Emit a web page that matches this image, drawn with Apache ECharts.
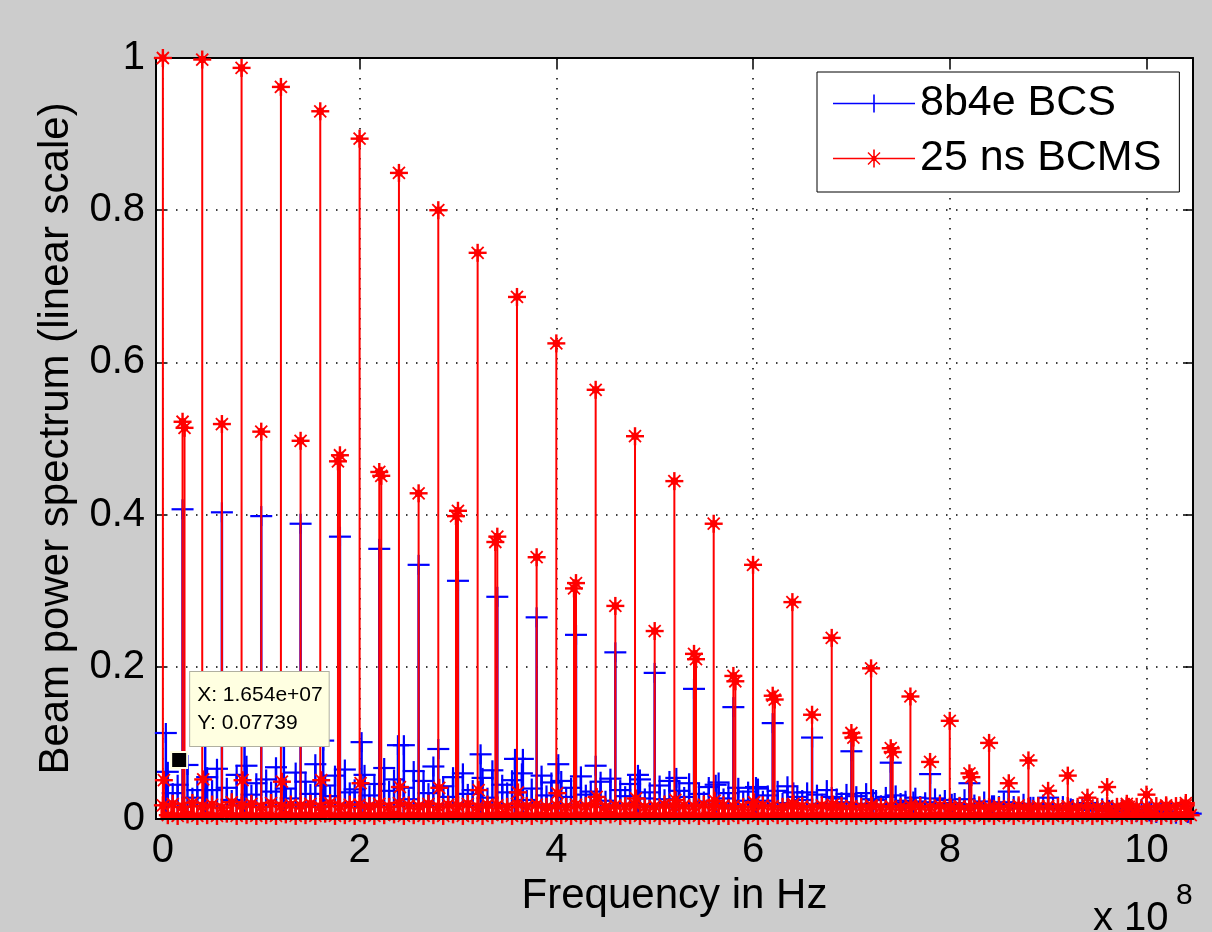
<!DOCTYPE html>
<html>
<head>
<meta charset="utf-8">
<title>Beam power spectrum</title>
<script src="https://cdn.jsdelivr.net/npm/echarts@6/dist/echarts.min.js"></script>
<style>
html, body { margin: 0; padding: 0; background: #cccccc; }
#chart { width: 1212px; height: 932px; }
</style>
</head>
<body>
<div id="chart"></div>
<script>
// frequencies in MHz, amplitudes normalised to the DC line

// 40 MHz harmonics
var mainFreq = [0, 40, 80, 120, 160, 200, 240, 280, 320, 360, 400, 440, 480, 520,
  560, 600, 640, 680, 720, 760, 800, 840, 880, 920, 960, 1000, 1040];
var redMain = [1.0, 0.998, 0.987, 0.962, 0.930, 0.894, 0.849, 0.800, 0.744, 0.686, 0.625, 0.564, 0.503, 0.444,
  0.388, 0.334, 0.285, 0.238, 0.198, 0.161, 0.129, 0.100, 0.077, 0.057, 0.042, 0.032, 0.021];

// odd 20 MHz harmonics
var oddFreq = [20, 60, 100, 140, 180, 220, 260, 300, 340, 380, 420, 460, 500,
  540, 580, 620, 660, 700, 740, 780, 820, 860, 900, 940, 980, 1020];
var redOdd = [0.522, 0.519, 0.509, 0.497, 0.478, 0.456, 0.428, 0.405, 0.371, 0.344, 0.310, 0.280, 0.247,
  0.217, 0.188, 0.162, 0.137, 0.113, 0.093, 0.075, 0.060, 0.047, 0.037, 0.028, 0.020, 0.018];
var blueOdd = [0.407, 0.403, 0.398, 0.388, 0.371, 0.355, 0.334, 0.313, 0.292, 0.265, 0.242, 0.219, 0.192,
  0.171, 0.147, 0.126, 0.107, 0.089, 0.074, 0.059, 0.047, 0.036, 0.028, 0.021, 0.014, 0.010];

// doubled red lines beside some odd harmonics
var redTwinFreq = [22, 178, 222, 298, 338, 418, 542, 582, 622, 702, 742, 822, 982];
var redTwin = [0.514, 0.470, 0.451, 0.398, 0.364, 0.303, 0.210, 0.181, 0.157, 0.107, 0.088, 0.055, 0.016];

// small lines sitting next to the 40 MHz harmonics
var redSideFreq = [1, 41, 81, 121, 161, 201, 241, 281, 321, 361, 401, 441, 481, 521,
  561, 601, 641, 681, 721, 761, 801, 841, 881, 921, 961, 1001, 1041];
var redSide = [0.051, 0.052, 0.051, 0.049, 0.051, 0.047, 0.042, 0.041, 0.038, 0.035, 0.034, 0.029, 0.027, 0.025,
  0.024, 0.022, 0.020, 0.019, 0.017, 0.016, 0.015, 0.014, 0.013, 0.012, 0.011, 0.010, 0.009];
var blueSideFreq = [3, 43, 83, 123, 163, 202, 239, 245, 280, 323, 358, 366, 402, 440, 483, 522,
  562, 603, 641, 680, 722, 763, 802, 843, 882, 923, 962, 1003, 1042];
var blueSide = [0.113, 0.110, 0.108, 0.106, 0.103, 0.101, 0.097, 0.097, 0.092, 0.085, 0.079, 0.079, 0.072, 0.070, 0.058, 0.054,
  0.045, 0.042, 0.035, 0.029, 0.026, 0.023, 0.020, 0.018, 0.016, 0.014, 0.012, 0.010, 0.008];

// dense low level lines
var blueFloorFreq = [5, 15, 25, 35, 45, 55, 65, 75, 85, 95,
  105, 115, 125, 135, 145, 155, 165, 175, 185, 195,
  205, 215, 225, 235, 245, 255, 265, 275, 285, 295,
  305, 315, 325, 335, 345, 355, 365, 375, 385, 395,
  405, 415, 425, 435, 445, 455, 465, 475, 485, 495,
  505, 515, 525, 535, 545, 555, 565, 575, 585, 595,
  605, 615, 625, 635, 645, 655, 665, 675, 685, 695,
  705, 715, 725, 735, 745, 755, 765, 775, 785, 795,
  805, 815, 825, 835, 845, 855, 865, 875, 885, 895,
  905, 915, 925, 935, 945, 955, 965, 975, 985, 995,
  1005, 1015, 1025, 1035, 1045];
var blueFloor = [0.062, 0.045, 0.071, 0.038, 0.055, 0.066, 0.041, 0.058, 0.070, 0.047,
  0.052, 0.068, 0.040, 0.061, 0.049, 0.072, 0.044, 0.057, 0.065, 0.039,
  0.058, 0.046, 0.067, 0.052, 0.041, 0.063, 0.050, 0.069, 0.043, 0.055,
  0.060, 0.038, 0.054, 0.064, 0.045, 0.051, 0.060, 0.040, 0.057, 0.048,
  0.050, 0.041, 0.056, 0.036, 0.049, 0.053, 0.038, 0.046, 0.052, 0.035,
  0.044, 0.050, 0.037, 0.047, 0.033, 0.042, 0.048, 0.034, 0.041, 0.036,
  0.040, 0.031, 0.037, 0.043, 0.029, 0.035, 0.032, 0.038, 0.027, 0.033,
  0.030, 0.034, 0.025, 0.029, 0.031, 0.024, 0.028, 0.022, 0.027, 0.025,
  0.021, 0.026, 0.019, 0.023, 0.018, 0.022, 0.017, 0.020, 0.016, 0.019,
  0.015, 0.017, 0.013, 0.016, 0.012, 0.014, 0.011, 0.013, 0.010, 0.012,
  0.009, 0.010, 0.008, 0.009, 0.007];
var blueLowFreq = [10, 30, 50, 70, 90, 110, 130, 150, 170, 190, 210, 230, 250, 270, 290,
  310, 330, 350, 370, 390, 410, 430, 450, 470, 490, 510, 530, 550, 570, 590,
  610, 630, 650, 670, 690, 710, 730, 750, 770, 790, 810, 830, 850, 870, 890,
  910, 930, 950, 970, 990, 1010, 1030];
var blueLow = [0.034, 0.028, 0.038, 0.025, 0.032, 0.036, 0.027, 0.033, 0.030, 0.035, 0.031, 0.037, 0.026, 0.034, 0.029,
  0.033, 0.028, 0.035, 0.025, 0.031, 0.029, 0.032, 0.024, 0.030, 0.027, 0.026, 0.029, 0.023, 0.027, 0.024,
  0.024, 0.021, 0.025, 0.020, 0.022, 0.020, 0.018, 0.021, 0.017, 0.019, 0.016, 0.015, 0.017, 0.014, 0.015,
  0.013, 0.012, 0.011, 0.010, 0.009, 0.008, 0.007];

var redFloorFreq = [0, 5, 10, 15, 20, 25, 30, 35, 40, 45, 50, 55, 60, 65, 70, 75, 80, 85, 90, 95,
  100, 105, 110, 115, 120, 125, 130, 135, 140, 145, 150, 155, 160, 165, 170, 175, 180, 185, 190, 195,
  200, 205, 210, 215, 220, 225, 230, 235, 240, 245, 250, 255, 260, 265, 270, 275, 280, 285, 290, 295,
  300, 305, 310, 315, 320, 325, 330, 335, 340, 345, 350, 355, 360, 365, 370, 375, 380, 385, 390, 395,
  400, 405, 410, 415, 420, 425, 430, 435, 440, 445, 450, 455, 460, 465, 470, 475, 480, 485, 490, 495,
  500, 505, 510, 515, 520, 525, 530, 535, 540, 545, 550, 555, 560, 565, 570, 575, 580, 585, 590, 595,
  600, 605, 610, 615, 620, 625, 630, 635, 640, 645, 650, 655, 660, 665, 670, 675, 680, 685, 690, 695,
  700, 705, 710, 715, 720, 725, 730, 735, 740, 745, 750, 755, 760, 765, 770, 775, 780, 785, 790, 795,
  800, 805, 810, 815, 820, 825, 830, 835, 840, 845, 850, 855, 860, 865, 870, 875, 880, 885, 890, 895,
  900, 905, 910, 915, 920, 925, 930, 935, 940, 945, 950, 955, 960, 965, 970, 975, 980, 985, 990, 995,
  1000, 1005, 1010, 1015, 1020, 1025, 1030, 1035, 1040, 1045];
var redFloor = [0.018, 0.005, 0.020, 0.004, 0.016, 0.006, 0.021, 0.004, 0.017, 0.005, 0.019, 0.004, 0.015, 0.007, 0.022, 0.004, 0.018, 0.005, 0.020, 0.004,
  0.016, 0.005, 0.021, 0.004, 0.017, 0.006, 0.019, 0.004, 0.018, 0.005, 0.020, 0.004, 0.016, 0.007, 0.021, 0.004, 0.017, 0.005, 0.019, 0.004,
  0.019, 0.005, 0.017, 0.004, 0.020, 0.005, 0.016, 0.006, 0.021, 0.004, 0.018, 0.005, 0.017, 0.004, 0.020, 0.005, 0.016, 0.004, 0.019, 0.006,
  0.017, 0.004, 0.020, 0.005, 0.016, 0.004, 0.019, 0.005, 0.018, 0.006, 0.016, 0.004, 0.020, 0.005, 0.017, 0.004, 0.019, 0.005, 0.016, 0.004,
  0.018, 0.005, 0.016, 0.004, 0.019, 0.005, 0.017, 0.004, 0.020, 0.005, 0.016, 0.006, 0.018, 0.004, 0.017, 0.005, 0.019, 0.004, 0.016, 0.005,
  0.017, 0.004, 0.019, 0.005, 0.016, 0.004, 0.018, 0.005, 0.017, 0.004, 0.019, 0.005, 0.016, 0.004, 0.018, 0.004, 0.017, 0.005, 0.016, 0.005,
  0.016, 0.004, 0.018, 0.004, 0.017, 0.005, 0.016, 0.004, 0.018, 0.005, 0.017, 0.004, 0.016, 0.005, 0.018, 0.004, 0.016, 0.005, 0.017, 0.004,
  0.017, 0.004, 0.016, 0.005, 0.018, 0.004, 0.016, 0.005, 0.017, 0.004, 0.016, 0.005, 0.018, 0.004, 0.017, 0.004, 0.016, 0.005, 0.018, 0.004,
  0.016, 0.005, 0.017, 0.004, 0.016, 0.005, 0.018, 0.004, 0.016, 0.004, 0.017, 0.005, 0.016, 0.004, 0.018, 0.005, 0.016, 0.004, 0.017, 0.004,
  0.017, 0.004, 0.016, 0.005, 0.017, 0.004, 0.016, 0.005, 0.018, 0.004, 0.016, 0.004, 0.017, 0.005, 0.016, 0.004, 0.017, 0.005, 0.016, 0.004,
  0.016, 0.005, 0.017, 0.004, 0.016, 0.005, 0.017, 0.004, 0.018, 0.005];

// x axis tick values in Hz, datatip
var xTicks = [0, 2e8, 4e8, 6e8, 8e8, 10e8];
var tipPoint = [1.654e7, 0.07739];
var tipText = ['X: 1.654e+07', 'Y: 0.07739'];

var BLUE = '#0000ff';
var RED = '#ff0000';
var FONT = 'Liberation Sans, Arial, sans-serif';
var X_MIN = -7e6, X_MAX = 1.0473e9;

function seg(x1, y1, x2, y2, color, w) {
  return { type: 'line', shape: { x1: x1, y1: y1, x2: x2, y2: y2 }, style: { stroke: color, lineWidth: w } };
}

function stemRenderer(color, stemWidth, marker) {
  return function (params, api) {
    var base = api.coord([api.value(0), 0]);
    var top = api.coord([api.value(0), api.value(1)]);
    var x = top[0], y = top[1];
    var kids = [seg(base[0], base[1], x, y, color, stemWidth)];
    if (marker === 'plus') {
      kids.push(seg(x - 11, y, x + 11, y, color, 2.2));
      kids.push(seg(x, y - 10, x, y + 10, color, 2.2));
    } else {
      kids.push(seg(x - 9, y, x + 9, y, color, 2.4));
      kids.push(seg(x, y - 9, x, y + 9, color, 2.4));
      kids.push(seg(x - 6, y - 6, x + 6, y + 6, color, 1.8));
      kids.push(seg(x - 6, y + 6, x + 6, y - 6, color, 1.8));
      kids.push({ type: 'rect', shape: { x: x - 3.5, y: y - 3.5, width: 7, height: 7 }, style: { fill: color } });
    }
    return { type: 'group', children: kids };
  };
}

function stems(name, freqs, vals, color, stemWidth, marker) {
  return {
    name: name,
    type: 'custom',
    data: freqs.map(function (f, i) { return [f * 1e6, vals[i]]; }),
    encode: { x: 0, y: 1 },
    renderItem: stemRenderer(color, stemWidth, marker),
    itemStyle: { color: color },
    clip: false,
    silent: true,
    animation: false
  };
}

var chart = echarts.init(document.getElementById('chart'));

chart.setOption({
  backgroundColor: '#cccccc',
  animation: false,
  textStyle: { fontFamily: FONT },
  grid: { left: 156, right: 19, top: 58, bottom: 113, show: true, backgroundColor: '#ffffff', borderWidth: 0 },
  legend: {
    orient: 'vertical',
    left: 817,
    top: 72,
    padding: [10, 18, 12, 16],
    itemGap: 12,
    itemWidth: 82,
    itemHeight: 20,
    backgroundColor: '#ffffff',
    borderColor: '#000000',
    borderWidth: 1,
    borderRadius: 0,
    selectedMode: false,
    textStyle: { fontSize: 43, lineHeight: 43, color: '#000', fontFamily: FONT },
    data: [
      { name: '8b4e BCS', icon: 'path://M0,9.25h82v1.5h-82z M40.2,1h1.6v18h-1.6z' },
      { name: '25 ns BCMS', icon: 'path://M0,9.25h82v1.5h-82z M40.2,1h1.6v18h-1.6z M33,9.2h16v1.6h-16z M34.5,4.5L35.5,3.5L47.5,15.5L46.5,16.5z M46.5,3.5L47.5,4.5L35.5,16.5L34.5,15.5z M38.5,7.5h5v5h-5z' }
    ]
  },
  xAxis: [{
    type: 'value',
    min: X_MIN,
    max: X_MAX,
    name: 'Frequency in Hz',
    nameLocation: 'middle',
    nameGap: 53,
    nameTextStyle: { fontSize: 42, color: '#000', fontFamily: FONT },
    axisLine: { show: true, onZero: false, lineStyle: { color: '#000', width: 2 } },
    axisTick: { show: true, inside: true, length: 10, customValues: xTicks, lineStyle: { color: '#000', width: 1.5 } },
    axisLabel: { show: true, margin: 12, fontSize: 40, color: '#000', fontFamily: FONT, customValues: xTicks,
      formatter: function (v) { return String(Math.round(v / 1e8)); } },
    splitLine: { show: true, lineStyle: { color: '#000', width: 1.5, type: [1.5, 8.5] } }
  }, {
    type: 'value',
    position: 'top',
    min: X_MIN,
    max: X_MAX,
    axisLine: { show: true, onZero: false, lineStyle: { color: '#000', width: 2 } },
    axisTick: { show: true, inside: true, length: 10, customValues: xTicks, lineStyle: { color: '#000', width: 1.5 } },
    axisLabel: { show: false },
    splitLine: { show: false }
  }, {
    // bottom box edge drawn over the dense red floor
    type: 'value',
    position: 'bottom',
    min: X_MIN,
    max: X_MAX,
    z: 10,
    axisLine: { show: true, onZero: false, lineStyle: { color: '#000', width: 2 } },
    axisTick: { show: false },
    axisLabel: { show: false },
    splitLine: { show: false }
  }],
  yAxis: [{
    type: 'value',
    min: 0,
    max: 1,
    interval: 0.2,
    name: 'Beam power spectrum (linear scale)',
    nameLocation: 'middle',
    nameGap: 79,
    nameTextStyle: { fontSize: 42, color: '#000', fontFamily: FONT },
    axisLine: { show: true, onZero: false, lineStyle: { color: '#000', width: 2 } },
    axisTick: { show: true, inside: true, length: 10, lineStyle: { color: '#000', width: 1.5 } },
    axisLabel: { margin: 11, fontSize: 40, color: '#000', fontFamily: FONT },
    splitLine: { show: true, lineStyle: { color: '#000', width: 1.5, type: [1.5, 8.5] } }
  }, {
    type: 'value',
    position: 'right',
    min: 0,
    max: 1,
    interval: 0.2,
    axisLine: { show: true, onZero: false, lineStyle: { color: '#000', width: 2 } },
    axisTick: { show: true, inside: true, length: 10, lineStyle: { color: '#000', width: 1.5 } },
    axisLabel: { show: false },
    splitLine: { show: false }
  }],
  graphic: [
    { type: 'text', left: 1093, top: 899, z: 10, style: { text: 'x 10', fontSize: 40, fontFamily: FONT, fill: '#000' } },
    { type: 'text', left: 1176, top: 881, z: 10, style: { text: '8', fontSize: 30, fontFamily: FONT, fill: '#000' } }
  ],
  series: [
    stems('8b4e BCS', blueLowFreq, blueLow, BLUE, 2.5, 'plus'),
    stems('8b4e BCS', blueFloorFreq, blueFloor, BLUE, 2.5, 'plus'),
    stems('8b4e BCS', blueSideFreq, blueSide, BLUE, 2.5, 'plus'),
    stems('8b4e BCS', oddFreq, blueOdd, BLUE, 2.5, 'plus'),
    stems('25 ns BCMS', redFloorFreq, redFloor, RED, 5, 'star'),
    stems('25 ns BCMS', redSideFreq, redSide, RED, 2, 'star'),
    stems('25 ns BCMS', redTwinFreq, redTwin, RED, 2, 'star'),
    stems('25 ns BCMS', oddFreq, redOdd, RED, 2, 'star'),
    stems('25 ns BCMS', mainFreq, redMain, RED, 2, 'star'),
    {
      name: 'datatip',
      type: 'scatter',
      data: [tipPoint],
      symbol: 'rect',
      symbolSize: 16,
      z: 20,
      silent: true,
      itemStyle: { color: '#000', borderColor: '#ffffe1', borderWidth: 2, opacity: 1 },
      label: {
        show: true,
        position: [20, -79],
        align: 'left',
        verticalAlign: 'top',
        formatter: tipText.join('\n'),
        fontSize: 21,
        lineHeight: 28,
        fontFamily: FONT,
        color: '#000',
        backgroundColor: '#ffffe1',
        borderColor: '#b0b0a0',
        borderWidth: 1,
        padding: [9, 6, 9, 7]
      }
    }
  ]
});
</script>
</body>
</html>
